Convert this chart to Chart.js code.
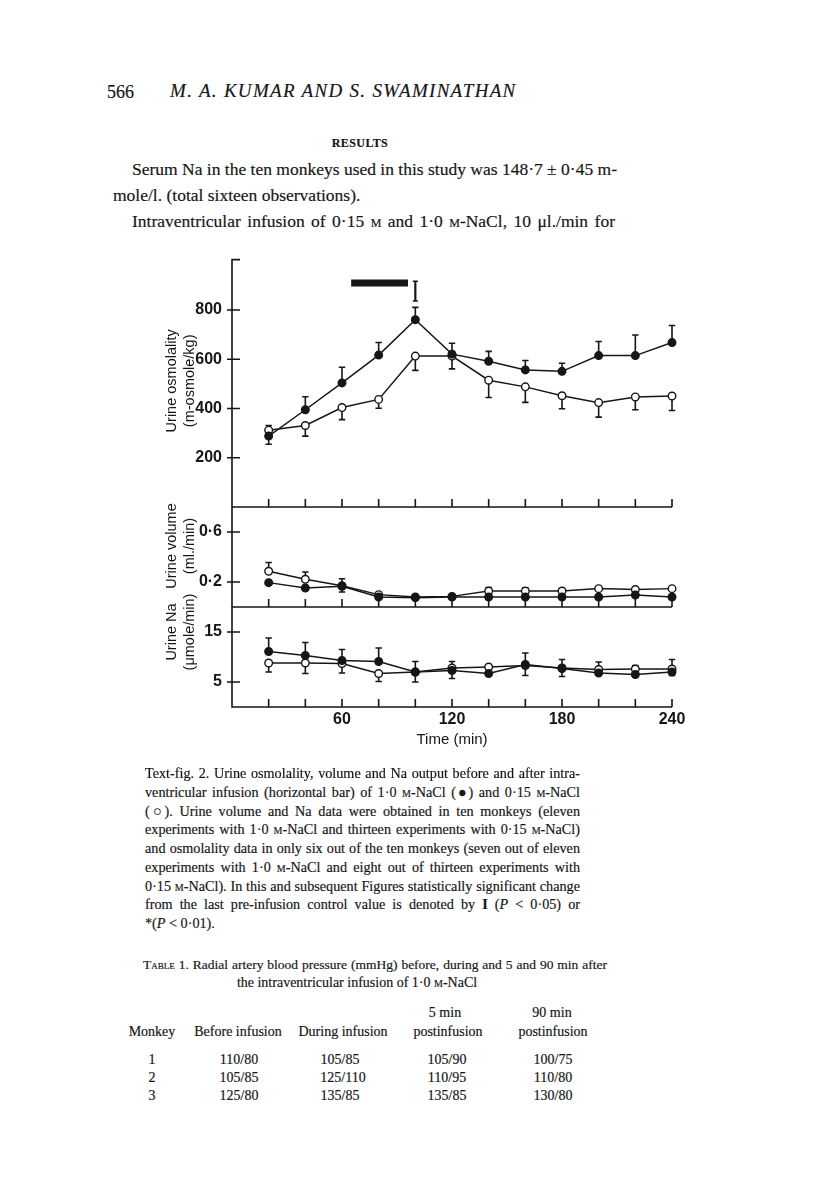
<!DOCTYPE html>
<html>
<head>
<meta charset="utf-8">
<script src="https://cdn.jsdelivr.net/npm/chart.js@4.4.0/dist/chart.umd.min.js"></script>
<style>
  html, body { margin: 0; padding: 0; background: #fff; }
  body { width: 816px; height: 1199px; position: relative; overflow: hidden; color: #161616; font-family: "Liberation Serif", serif; }
  .t { position: absolute; white-space: nowrap; -webkit-text-stroke: 0.18px #161616; }
  .j { text-align: justify; text-align-last: justify; }
  .c { text-align: center; }
  .sc { font-variant: small-caps; }
  .body { font-size: 17.5px; line-height: 26px; }
  .cap { font-size: 14.2px; line-height: 18px; }
  .tab { font-size: 14px; line-height: 18px; }
  #fig { position: absolute; left: 120px; top: 240px; width: 580px; height: 520px; }
  #fig canvas { position: absolute; left: 0; top: 0; }
</style>
</head>
<body>

<div class="t" style="left:107px; top:80px; font-size:18px; line-height:24px;">566</div>
<div class="t" style="left:170px; top:79px; font-size:19px; line-height:24px; font-style:italic; letter-spacing:1.3px;">M. A. KUMAR AND S. SWAMINATHAN</div>
<div class="t c" style="left:300px; width:120px; top:134px; font-size:12px; line-height:18px; font-weight:bold; letter-spacing:0.4px;">RESULTS</div>

<div class="t j body" style="left:132px; width:483px; top:156px;">Serum Na in the ten monkeys used in this study was 148·7 ± 0·45 m-</div>
<div class="t body" style="left:113px; top:182px;">mole/l. (total sixteen observations).</div>
<div class="t j body" style="left:132px; width:483px; top:208px;">Intraventricular infusion of 0·15 <span class="sc">m</span> and 1·0 <span class="sc">m</span>-NaCl, 10 μl./min for</div>

<div id="fig">
  <canvas id="osm" width="580" height="520"></canvas>
  <canvas id="vol" width="580" height="520"></canvas>
  <canvas id="na" width="580" height="520"></canvas>
</div>

<div class="t j cap" style="left:145px; width:435px; top:764px;">Text-fig. 2. Urine osmolality, volume and Na output before and after intra-</div>
<div class="t j cap" style="left:145px; width:435px; top:783px;">ventricular infusion (horizontal bar) of 1·0 <span class="sc">m</span>-NaCl (●) and 0·15 <span class="sc">m</span>-NaCl</div>
<div class="t j cap" style="left:145px; width:435px; top:802px;">(○). Urine volume and Na data were obtained in ten monkeys (eleven</div>
<div class="t j cap" style="left:145px; width:435px; top:820px;">experiments with 1·0 <span class="sc">m</span>-NaCl and thirteen experiments with 0·15 <span class="sc">m</span>-NaCl)</div>
<div class="t j cap" style="left:145px; width:435px; top:839px;">and osmolality data in only six out of the ten monkeys (seven out of eleven</div>
<div class="t j cap" style="left:145px; width:435px; top:858px;">experiments with 1·0 <span class="sc">m</span>-NaCl and eight out of thirteen experiments with</div>
<div class="t j cap" style="left:145px; width:435px; top:877px;">0·15 <span class="sc">m</span>-NaCl). In this and subsequent Figures statistically significant change</div>
<div class="t j cap" style="left:145px; width:435px; top:895px;">from the last pre-infusion control value is denoted by <b>I</b> (<i>P</i> &lt; 0·05) or</div>
<div class="t cap" style="left:145px; top:914px;">*(<i>P</i> &lt; 0·01).</div>

<div class="t j tab" style="left:143px; width:464px; top:956px; font-size:13.5px;">T<span class="sc">able</span> 1. Radial artery blood pressure (mmHg) before, during and 5 and 90 min after</div>
<div class="t c tab" style="left:207px; width:300px; top:974px;">the intraventricular infusion of 1·0 <span class="sc">m</span>-NaCl</div>

<div class="t c tab" style="left:385px; width:120px; top:1004px;">5 min</div>
<div class="t c tab" style="left:492px; width:120px; top:1004px;">90 min</div>
<div class="t c tab" style="left:92px; width:120px; top:1023px;">Monkey</div>
<div class="t c tab" style="left:178px; width:120px; top:1023px;">Before infusion</div>
<div class="t c tab" style="left:283px; width:120px; top:1023px;">During infusion</div>
<div class="t c tab" style="left:388px; width:120px; top:1023px;">postinfusion</div>
<div class="t c tab" style="left:493px; width:120px; top:1023px;">postinfusion</div>

<div class="t c tab" style="left:92px; width:120px; top:1051px;">1</div>
<div class="t c tab" style="left:179px; width:120px; top:1051px;">110/80</div>
<div class="t c tab" style="left:280px; width:120px; top:1051px;">105/85</div>
<div class="t c tab" style="left:387px; width:120px; top:1051px;">105/90</div>
<div class="t c tab" style="left:493px; width:120px; top:1051px;">100/75</div>

<div class="t c tab" style="left:92px; width:120px; top:1069px;">2</div>
<div class="t c tab" style="left:179px; width:120px; top:1069px;">105/85</div>
<div class="t c tab" style="left:283px; width:120px; top:1069px;">125/110</div>
<div class="t c tab" style="left:387px; width:120px; top:1069px;">110/95</div>
<div class="t c tab" style="left:493px; width:120px; top:1069px;">110/80</div>

<div class="t c tab" style="left:92px; width:120px; top:1087px;">3</div>
<div class="t c tab" style="left:179px; width:120px; top:1087px;">125/80</div>
<div class="t c tab" style="left:280px; width:120px; top:1087px;">135/85</div>
<div class="t c tab" style="left:387px; width:120px; top:1087px;">135/85</div>
<div class="t c tab" style="left:493px; width:120px; top:1087px;">130/80</div>

<script>
const ink = '#161616';

// sampling times (min) and x tick labels
const times = [20, 40, 60, 80, 100, 120, 140, 160, 180, 200, 220, 240];
const timeTickLabels = [60, 120, 180, 240];

// urine osmolality (m-osmole/kg); errors: + up, - down
const osmTicks = [200, 400, 600, 800];
const osmFilled = [288, 395, 504, 617, 761, 621, 592, 557, 551, 615, 615, 668];
const osmFilledErr = [-33, 53, 64, 51, 50, 44, 40, 38, 33, 57, 84, 69];
const osmOpen = [312, 331, 404, 437, 613, 613, 515, 488, 452, 424, 447, 451];
const osmOpenErr = [19, -43, -49, -36, -58, -52, -70, -63, -53, -59, -52, -59];

// urine volume (ml./min)
const volTicks = [0.2, 0.6];
const volFilled = [0.195, 0.152, 0.166, 0.08, 0.075, 0.08, 0.08, 0.08, 0.08, 0.08, 0.096, 0.08];
const volFilledErr = [0, 0, 0.06, 0, 0, 0, 0, 0, 0, 0, 0, 0];
const volOpen = [0.286, 0.222, 0.17, 0.099, 0.08, 0.085, 0.128, 0.128, 0.128, 0.147, 0.14, 0.147];
const volOpenErr = [0.07, 0.058, -0.05, 0, 0, 0, 0.027, 0.025, 0.02, 0.012, 0.01, 0.012];

// urine Na (umole/min)
const naTicks = [5, 15];
const naFilled = [11.1, 10.3, 9.3, 9.1, 7.0, 7.3, 6.7, 8.5, 7.7, 6.8, 6.5, 7.0];
const naFilledErr = [2.7, 2.6, 2.2, 2.7, 2.1, 1.8, 0, 2.3, 1.8, 2.2, 1.8, 2.5];
const naOpen = [8.8, 8.8, 8.7, 6.7, 7.0, 7.8, 8.0, 8.3, 7.8, 7.5, 7.6, 7.6];
const naOpenErr = [-1.8, -2.1, -1.9, -1.6, -2.0, -2.1, 0, -2.0, -1.7, 0, 0, -1.3];

// infusion period (horizontal bar) and significance mark
const infusionSpan = [65, 96];
const infusionLevel = 910;
const sigTimes = [100];
const sigRange = [837, 917];

// axis lines, panel separators, tick marks and side titles
const framePlugin = {
    id: 'frame',
    afterDraw(chart, args, opts) {
        const { ctx, chartArea: a, scales } = chart;
        const x = scales.x, y = scales.y;
        ctx.save();
        ctx.strokeStyle = ink;
        ctx.lineWidth = 1.6;
        ctx.beginPath();
        ctx.moveTo(a.left, a.top - (opts.topTick ? 0.8 : 0));
        ctx.lineTo(a.left, a.bottom + 0.8);
        ctx.moveTo(a.left, a.bottom);
        ctx.lineTo(a.right, a.bottom);
        times.forEach(t => {
            const px = x.getPixelForValue(t);
            ctx.moveTo(px, a.bottom);
            ctx.lineTo(px, a.bottom - 8);
        });
        y.ticks.forEach(tk => {
            const py = y.getPixelForValue(tk.value);
            ctx.moveTo(a.left - 5, py);
            ctx.lineTo(a.left + 8, py);
        });
        if (opts.topTick) {
            ctx.moveTo(a.left, a.top);
            ctx.lineTo(a.left + 8, a.top);
        }
        ctx.stroke();

        // two-line rotated axis title
        const yc = a.top + (a.bottom - a.top) * opts.titleAt;
        ctx.fillStyle = ink;
        ctx.font = '14.5px "Liberation Sans", Arial, sans-serif';
        ctx.textAlign = 'center';
        ctx.textBaseline = 'middle';
        opts.titles.forEach((line, i) => {
            ctx.save();
            ctx.translate(a.left - 60 + i * 18, yc);
            ctx.rotate(-Math.PI / 2);
            ctx.fillText(line, 0, 0);
            ctx.restore();
        });
        ctx.restore();
    }
};

const errorBars = {
    id: 'errorBars',
    beforeDatasetsDraw(chart) {
        const { ctx, scales: { y } } = chart;
        ctx.save();
        ctx.strokeStyle = ink;
        ctx.lineWidth = 1.6;
        chart.data.datasets.forEach((ds, i) => {
            const meta = chart.getDatasetMeta(i);
            meta.data.forEach((pt, j) => {
                const e = ds.errors[j];
                if (!e) return;
                const y1 = y.getPixelForValue(ds.data[j].y + e);
                ctx.beginPath();
                ctx.moveTo(pt.x, pt.y);
                ctx.lineTo(pt.x, y1);
                ctx.moveTo(pt.x - 3.2, y1);
                ctx.lineTo(pt.x + 3.2, y1);
                ctx.stroke();
            });
        });
        ctx.restore();
    }
};

const infusionMarks = {
    id: 'infusionMarks',
    afterDraw(chart) {
        const { ctx, scales: { x, y } } = chart;
        ctx.save();
        ctx.strokeStyle = ink;
        ctx.lineWidth = 7;
        ctx.beginPath();
        ctx.moveTo(x.getPixelForValue(infusionSpan[0]), y.getPixelForValue(infusionLevel));
        ctx.lineTo(x.getPixelForValue(infusionSpan[1]), y.getPixelForValue(infusionLevel));
        ctx.stroke();
        sigTimes.forEach(t => {
            const px = x.getPixelForValue(t);
            const y0 = y.getPixelForValue(sigRange[0]);
            const y1 = y.getPixelForValue(sigRange[1]);
            ctx.lineWidth = 2.2;
            ctx.beginPath();
            ctx.moveTo(px, y0); ctx.lineTo(px, y1);
            ctx.stroke();
            ctx.lineWidth = 1.4;
            ctx.beginPath();
            ctx.moveTo(px - 2.5, y0); ctx.lineTo(px + 2.5, y0);
            ctx.moveTo(px - 2.5, y1); ctx.lineTo(px + 2.5, y1);
            ctx.stroke();
        });
        ctx.restore();
    }
};

function series(values, errors, fill) {
    return {
        data: times.map((t, i) => ({ x: t, y: values[i] })),
        errors: errors,
        borderColor: ink,
        borderWidth: 1.5,
        pointRadius: 3.8,
        pointBorderWidth: 1.4,
        pointBackgroundColor: fill,
        pointBorderColor: ink,
        tension: 0,
        clip: false
    };
}

function makePanel(id, cfg) {
    const tickFont = { family: '"Liberation Sans", Arial, sans-serif', size: 16, weight: 'bold' };
    const extra = [framePlugin, errorBars];
    if (cfg.marks) extra.push(infusionMarks);
    const xScale = {
        type: 'linear',
        min: 0,
        max: 240,
        display: !!cfg.showX,
        afterBuildTicks: s => { s.ticks = timeTickLabels.map(v => ({ value: v })); },
        grid: { display: false, drawTicks: false },
        border: { display: false },
        ticks: { color: ink, font: tickFont, padding: 3, autoSkip: false, maxRotation: 0 },
        title: {
            display: true,
            text: 'Time (min)',
            color: ink,
            font: { family: '"Liberation Sans", Arial, sans-serif', size: 15 },
            padding: { top: 0, bottom: 11 }
        }
    };
    if (cfg.showX) xScale.afterFit = s => { s.height = 53; };
    return new Chart(document.getElementById(id), {
        type: 'line',
        data: {
            datasets: [
                series(cfg.filled, cfg.filledErr, ink),
                series(cfg.open, cfg.openErr, '#ffffff')
            ]
        },
        options: {
            responsive: false,
            animation: false,
            events: [],
            layout: { padding: { top: cfg.padTop, bottom: cfg.padBottom, left: 0, right: 28 } },
            plugins: {
                legend: { display: false },
                tooltip: { enabled: false },
                frame: { titles: cfg.titles, titleAt: cfg.titleAt, topTick: !!cfg.marks }
            },
            scales: {
                x: xScale,
                y: {
                    min: cfg.min,
                    max: cfg.max,
                    afterFit: s => { s.width = 112; },
                    afterBuildTicks: s => { s.ticks = cfg.ticks.map(v => ({ value: v })); },
                    grid: { display: false, drawTicks: false },
                    border: { display: false },
                    ticks: { color: ink, font: tickFont, padding: 10, callback: cfg.fmt }
                }
            }
        },
        plugins: extra
    });
}

makePanel('osm', {
    filled: osmFilled, filledErr: osmFilledErr, open: osmOpen, openErr: osmOpenErr,
    ticks: osmTicks, min: 0, max: 1005, fmt: v => String(v),
    titles: ['Urine osmolality', '(m-osmole/kg)'], titleAt: 0.49,
    padTop: 15, padBottom: 253, marks: true
});

makePanel('vol', {
    filled: volFilled, filledErr: volFilledErr, open: volOpen, openErr: volOpenErr,
    ticks: volTicks, min: 0, max: 0.8, fmt: v => v.toFixed(1).replace('.', '·'),
    titles: ['Urine volume', '(ml./min)'], titleAt: 0.39,
    padTop: 267, padBottom: 153
});

makePanel('na', {
    filled: naFilled, filledErr: naFilledErr, open: naOpen, openErr: naOpenErr,
    ticks: naTicks, min: 0, max: 20, fmt: v => String(v),
    titles: ['Urine Na', '(μmole/min)'], titleAt: 0.25,
    padTop: 367, padBottom: 0, showX: true
});
</script>
</body>
</html>
